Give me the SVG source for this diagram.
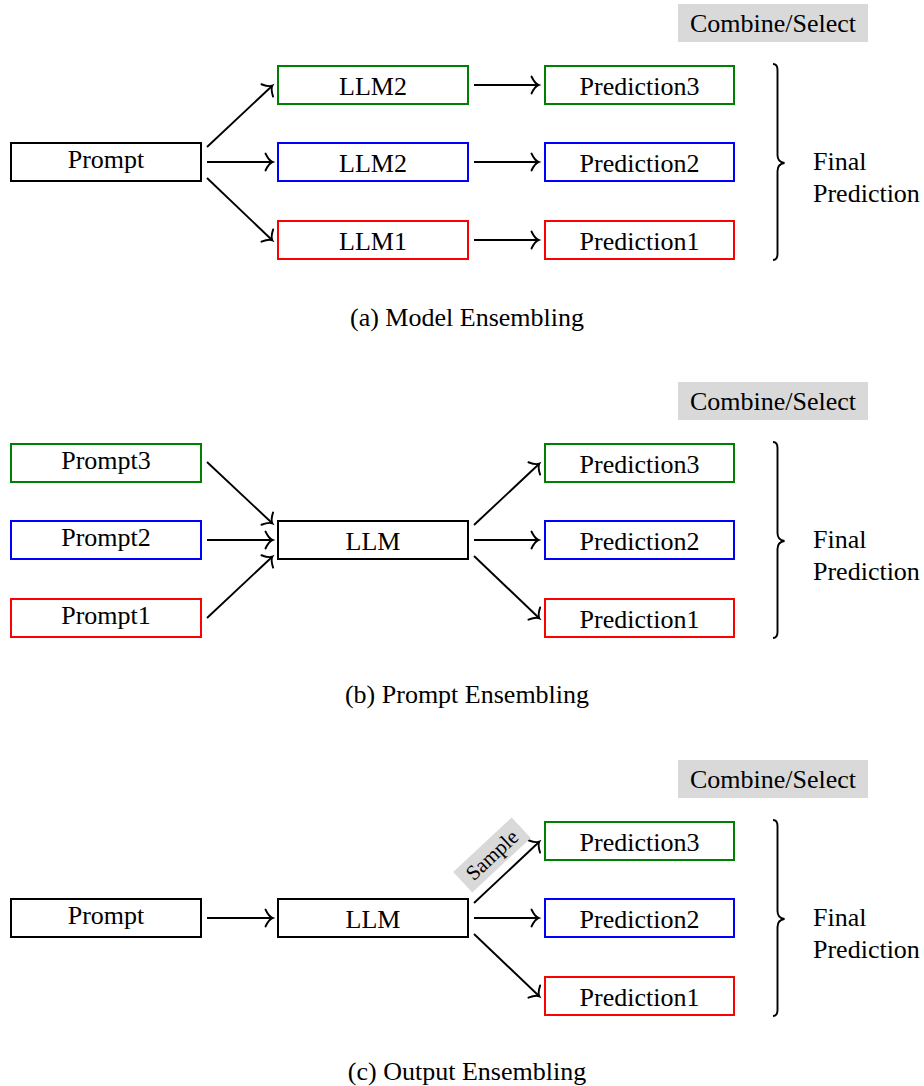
<svg xmlns="http://www.w3.org/2000/svg" width="924" height="1086" viewBox="0 0 924 1086">
<style>
text{font-family:"Liberation Serif","Times New Roman",serif;font-size:26px;fill:#000}
.c{text-anchor:middle}
.box{fill:#fff;stroke-width:2}
.k{stroke:#000}.g{stroke:#008000}.b{stroke:#0000ff}.r{stroke:#ff0000}
.sel{fill:#d9d9d9}
.e{stroke:#000;stroke-width:1.9;fill:none;marker-end:url(#ah)}
.brace{stroke:#000;stroke-width:1.9;fill:none}
</style>
<defs>
<marker id="ah" markerUnits="userSpaceOnUse" viewBox="-10 -10 12 20" refX="0" refY="0" markerWidth="12" markerHeight="20" orient="auto" overflow="visible">
<path d="M-6.5,-8.5 Q-3,-1.2 0.5,0 Q-3,1.2 -6.5,8.5" fill="none" stroke="#000" stroke-width="1.9" stroke-linecap="round"/>
</marker>
</defs>

<!-- (a) Model Ensembling -->
<g id="a-combine"><rect class="sel" x="678" y="4" width="190" height="38"/><text class="c" x="773" y="32">Combine/Select</text></g>
<g id="a-prompt"><rect class="box k" x="11" y="143" width="190" height="38"/><text class="c" x="106" y="168">Prompt</text></g>
<g id="a-llm2g"><rect class="box g" x="278" y="66" width="190" height="38"/><text class="c" x="373" y="94.5">LLM2</text></g>
<g id="a-llm2b"><rect class="box b" x="278" y="143" width="190" height="38"/><text class="c" x="373" y="171.5">LLM2</text></g>
<g id="a-llm1"><rect class="box r" x="278" y="221" width="190" height="38"/><text class="c" x="373" y="249.5">LLM1</text></g>
<g id="a-pred3"><rect class="box g" x="545" y="66" width="189" height="38"/><text class="c" x="639.5" y="94.5">Prediction3</text></g>
<g id="a-pred2"><rect class="box b" x="545" y="143" width="189" height="38"/><text class="c" x="639.5" y="171.5">Prediction2</text></g>
<g id="a-pred1"><rect class="box r" x="545" y="221" width="189" height="38"/><text class="c" x="639.5" y="249.5">Prediction1</text></g>
<g id="a-final"><path class="brace" d="M773,64 Q777.5,64 777.5,70 L777.5,155 Q777.5,162 784.5,163 Q777.5,164 777.5,171 L777.5,254 Q777.5,260 773,260"/><text x="813" y="170">Final</text><text x="813" y="202">Prediction</text></g>
<text id="cap-a" class="c" x="467" y="326">(a) Model Ensembling</text>

<!-- (b) Prompt Ensembling -->
<g id="b-combine"><rect class="sel" x="678" y="382" width="190" height="38"/><text class="c" x="773" y="410">Combine/Select</text></g>
<g id="b-prompt3"><rect class="box g" x="11" y="444" width="190" height="38"/><text class="c" x="106" y="469">Prompt3</text></g>
<g id="b-prompt2"><rect class="box b" x="11" y="521" width="190" height="38"/><text class="c" x="106" y="546">Prompt2</text></g>
<g id="b-prompt1"><rect class="box r" x="11" y="599" width="190" height="38"/><text class="c" x="106" y="624">Prompt1</text></g>
<g id="b-llm"><rect class="box k" x="278" y="521" width="190" height="38"/><text class="c" x="373" y="549.5">LLM</text></g>
<g id="b-pred3"><rect class="box g" x="545" y="444" width="189" height="38"/><text class="c" x="639.5" y="472.5">Prediction3</text></g>
<g id="b-pred2"><rect class="box b" x="545" y="521" width="189" height="38"/><text class="c" x="639.5" y="549.5">Prediction2</text></g>
<g id="b-pred1"><rect class="box r" x="545" y="599" width="189" height="38"/><text class="c" x="639.5" y="627.5">Prediction1</text></g>
<g id="b-final"><path class="brace" d="M773,442 Q777.5,442 777.5,448 L777.5,533 Q777.5,540 784.5,541 Q777.5,542 777.5,549 L777.5,632 Q777.5,638 773,638"/><text x="813" y="548">Final</text><text x="813" y="580">Prediction</text></g>
<text id="cap-b" class="c" x="467" y="703">(b) Prompt Ensembling</text>

<!-- (c) Output Ensembling -->
<g id="c-combine"><rect class="sel" x="678" y="760" width="190" height="38"/><text class="c" x="773" y="788">Combine/Select</text></g>
<g id="c-prompt"><rect class="box k" x="11" y="899" width="190" height="38"/><text class="c" x="106" y="924">Prompt</text></g>
<g id="c-llm"><rect class="box k" x="278" y="899" width="190" height="38"/><text class="c" x="373" y="927.5">LLM</text></g>
<g id="c-pred3"><rect class="box g" x="545" y="822" width="189" height="38"/><text class="c" x="639.5" y="850.5">Prediction3</text></g>
<g id="c-pred2"><rect class="box b" x="545" y="899" width="189" height="38"/><text class="c" x="639.5" y="927.5">Prediction2</text></g>
<g id="c-pred1"><rect class="box r" x="545" y="977" width="189" height="38"/><text class="c" x="639.5" y="1005.5">Prediction1</text></g>
<g id="c-final"><path class="brace" d="M773,820 Q777.5,820 777.5,826 L777.5,911 Q777.5,918 784.5,919 Q777.5,920 777.5,927 L777.5,1010 Q777.5,1016 773,1016"/><text x="813" y="926">Final</text><text x="813" y="958">Prediction</text></g>
<text id="cap-c" class="c" x="467" y="1080">(c) Output Ensembling</text>

<g id="connectors">
<!-- a -->
<line class="e" x1="207" y1="147" x2="272" y2="86"/>
<line class="e" x1="207" y1="162" x2="272" y2="162"/>
<line class="e" x1="207" y1="178" x2="272" y2="240"/>
<line class="e" x1="474" y1="85" x2="538" y2="85"/>
<line class="e" x1="474" y1="162" x2="538" y2="162"/>
<line class="e" x1="474" y1="240" x2="538" y2="240"/>
<!-- b -->
<line class="e" x1="207" y1="462" x2="272" y2="523"/>
<line class="e" x1="207" y1="540" x2="272" y2="540"/>
<line class="e" x1="207" y1="618" x2="272" y2="557"/>
<line class="e" x1="474" y1="525" x2="539" y2="464"/>
<line class="e" x1="474" y1="540" x2="538" y2="540"/>
<line class="e" x1="474" y1="556" x2="539" y2="618"/>
<!-- c -->
<line class="e" x1="207" y1="918" x2="272" y2="918"/>
<line class="e" x1="474" y1="903" x2="539" y2="842"/>
<line class="e" x1="474" y1="918" x2="538" y2="918"/>
<line class="e" x1="474" y1="934" x2="539" y2="996"/>
<g id="sample-label" transform="translate(492,855) rotate(-43)">
<rect class="sel" x="-40" y="-14" width="80" height="28"/>
<text class="c" x="0" y="7" style="font-size:21px">Sample</text>
</g>
</g>
</svg>
